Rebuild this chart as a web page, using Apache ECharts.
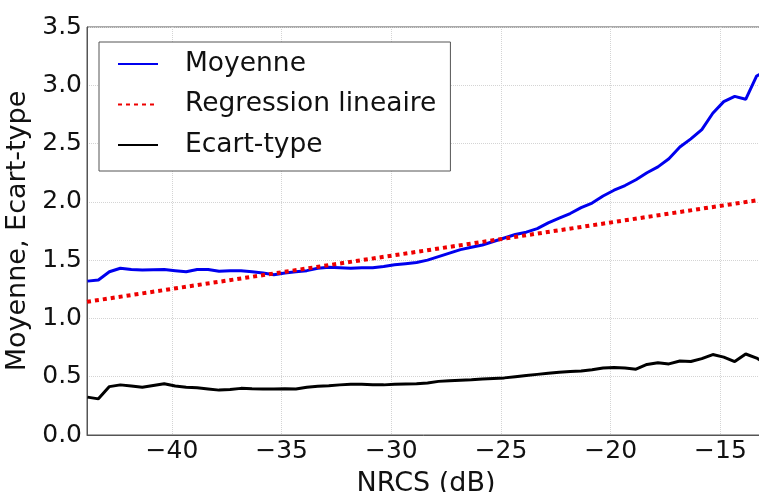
<!DOCTYPE html>
<html>
<head>
<meta charset="utf-8">
<script src="https://cdn.jsdelivr.net/npm/echarts@6/dist/echarts.min.js"></script>
<style>html,body{margin:0;padding:0;background:#fff}#c{width:759px;height:492px}</style>
</head>
<body>
<div id="c"></div>
<script>
// NRCS bin centres (dB)
const nrcs = [-43.85,-43.35,-42.85,-42.35,-41.85,-41.35,-40.85,-40.35,-39.85,-39.35,
  -38.85,-38.35,-37.85,-37.35,-36.85,-36.35,-35.85,-35.35,-34.85,-34.35,
  -33.85,-33.35,-32.85,-32.35,-31.85,-31.35,-30.85,-30.35,-29.85,-29.35,
  -28.85,-28.35,-27.85,-27.35,-26.85,-26.35,-25.85,-25.35,-24.85,-24.35,
  -23.85,-23.35,-22.85,-22.35,-21.85,-21.35,-20.85,-20.35,-19.85,-19.35,
  -18.85,-18.35,-17.85,-17.35,-16.85,-16.35,-15.85,-15.35,-14.85,-14.35,
  -13.85,-13.35,-12.85];
const moyenne = [1.32,1.33,1.40,1.43,1.42,1.415,1.418,1.42,1.41,1.40,
  1.42,1.42,1.405,1.41,1.41,1.40,1.39,1.375,1.39,1.40,
  1.41,1.43,1.44,1.435,1.43,1.435,1.435,1.445,1.46,1.47,
  1.48,1.50,1.53,1.56,1.59,1.61,1.63,1.66,1.69,1.72,
  1.74,1.77,1.82,1.86,1.90,1.95,1.99,2.05,2.10,2.14,
  2.19,2.25,2.30,2.37,2.47,2.54,2.62,2.76,2.86,2.905,
  2.88,3.08,3.13];
const ecartType = [0.325,0.31,0.415,0.43,0.42,0.41,0.425,0.44,0.42,0.41,
  0.405,0.395,0.385,0.39,0.40,0.397,0.395,0.395,0.397,0.395,
  0.41,0.418,0.423,0.43,0.435,0.435,0.432,0.43,0.435,0.438,
  0.44,0.447,0.46,0.466,0.47,0.474,0.48,0.485,0.49,0.50,
  0.51,0.52,0.53,0.538,0.545,0.55,0.56,0.575,0.58,0.575,
  0.565,0.605,0.62,0.61,0.635,0.63,0.655,0.69,0.668,0.63,
  0.695,0.66,0.60];
// regression line endpoints
const regX = [-43.87, -12.85];
const regY = [1.143, 2.027];
const yTicks = [0, 3.5, 0.5];
const xRange = [-43.87, -12.97];

const pairs = (xs, ys) => xs.map((x, i) => [x, ys[i]]);
const FONT = 'DejaVu Sans';
const chart = echarts.init(document.getElementById('c'), null, {renderer: 'canvas'});
chart.setOption({
  animation: false,
  backgroundColor: '#fff',
  textStyle: {fontFamily: FONT},
  grid: {left: 87, top: 27, right: -6, bottom: 57, show: true, borderColor: '#555', borderWidth: 1,
    containLabel: false, outerBoundsMode: 'none'},
  legend: {
    orient: 'vertical', left: 99, top: 42,
    padding: [7, 14, 11, 18],
    itemWidth: 40, itemHeight: 14, itemGap: 10.5,
    borderColor: '#555', borderWidth: 1, backgroundColor: '#fff',
    itemStyle: {opacity: 0},
    textStyle: {fontFamily: FONT, fontSize: 26.5, color: '#111', lineHeight: 30, padding: [0, 0, 0, 22]},
    data: ['Moyenne', 'Regression lineaire', 'Ecart-type']
  },
  xAxis: {
    type: 'value', min: xRange[0], max: xRange[1], minInterval: 5, maxInterval: 5,
    name: 'NRCS (dB)', nameLocation: 'middle', nameGap: 35,
    nameTextStyle: {fontFamily: FONT, fontSize: 27, color: '#111'},
    axisLine: {show: true, lineStyle: {color: '#555', width: 1}},
    axisTick: {show: false},
    axisLabel: {fontFamily: FONT, fontSize: 25, color: '#111', margin: 4, showMinLabel: false, showMaxLabel: false,
      formatter: v => (Math.abs(v % 5) < 1e-6 ? (v < 0 ? '\u2212' + Math.abs(v) : String(v)) : '')},
    splitLine: {show: true, lineStyle: {color: '#d4d4d4', type: 'dotted', width: 1}}
  },
  yAxis: {
    type: 'value', min: yTicks[0], max: yTicks[1], interval: yTicks[2],
    name: 'Moyenne, Ecart-type', nameLocation: 'middle', nameGap: 46, nameRotate: 90,
    nameTextStyle: {fontFamily: FONT, fontSize: 27, color: '#111'},
    axisLine: {show: true, lineStyle: {color: '#555', width: 1}},
    axisTick: {show: false},
    axisLabel: {fontFamily: FONT, fontSize: 25, color: '#111', margin: 5, formatter: v => v.toFixed(1)},
    splitLine: {show: true, lineStyle: {color: '#d4d4d4', type: 'dotted', width: 1}}
  },
  series: [
    {name: 'Moyenne', type: 'line', data: pairs(nrcs, moyenne), showSymbol: false, symbol: 'none',
      lineStyle: {color: '#0000ee', width: 3}, itemStyle: {color: '#0000ee'}, clip: true},
    {name: 'Regression lineaire', type: 'line', data: pairs(regX, regY), showSymbol: false, symbol: 'none',
      lineStyle: {color: '#ee0000', width: 4, type: [4, 4]}, itemStyle: {color: '#ee0000'}, clip: true},
    {name: 'Ecart-type', type: 'line', data: pairs(nrcs, ecartType), showSymbol: false, symbol: 'none',
      lineStyle: {color: '#000', width: 3}, itemStyle: {color: '#000'}, clip: true}
  ]
});
</script>
</body>
</html>
